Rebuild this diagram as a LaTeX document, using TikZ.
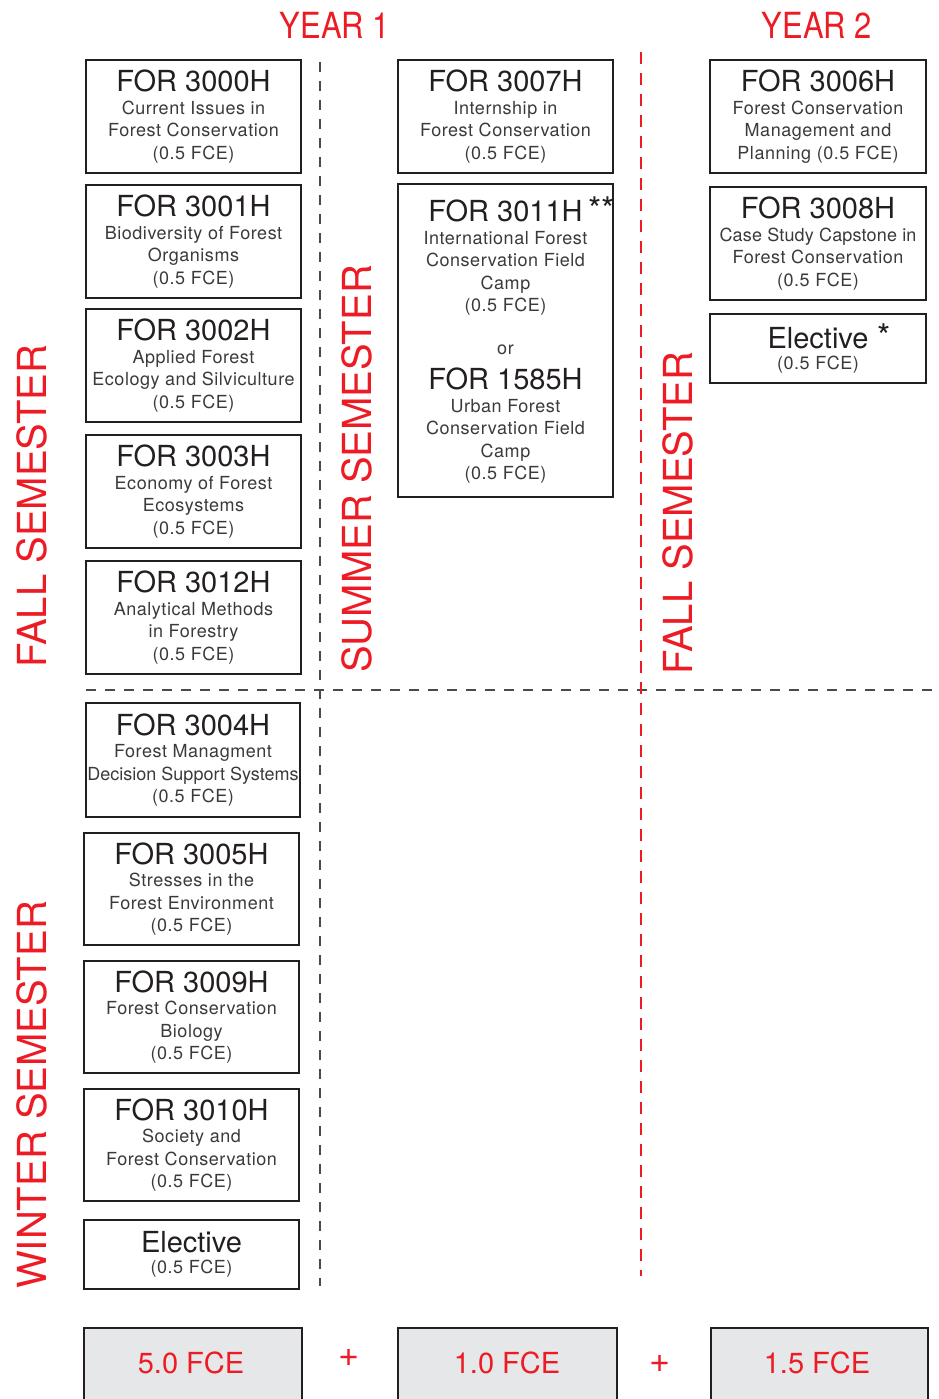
\documentclass[tikz,border=0pt]{standalone}
\usepackage{fontspec}
\setmainfont{TeX Gyre Heros}
\newfontfamily\subfam[LetterSpace=3]{TeX Gyre Heros}
\newfontfamily\subtight{TeX Gyre Heros}
\definecolor{cred}{HTML}{ED1C24}
\definecolor{cdark}{HTML}{231F20}
\definecolor{csub}{HTML}{3A3A3A}
\definecolor{cdash}{HTML}{4A4A4A}
\definecolor{cfill}{HTML}{E6E7E8}
\newcommand{\ttl}[1]{{\fontsize{29}{22}\selectfont\normalfont\color{cdark}#1}}
\tikzset{
  course/.style={draw=cdark, line width=2.8pt, align=center, inner sep=0pt,
    font=\subfam\fontsize{18}{22.5}\selectfont, text=csub},
  total/.style={draw=cdark, line width=2.8pt, fill=cfill, inner sep=0pt},
  totaltext/.style={text=cred, font=\fontsize{29}{30}\selectfont},
  semlabel/.style={text=cred, rotate=90, font=\fontsize{40}{40}\selectfont, inner sep=0pt},
  yearlabel/.style={text=cred, font=\fontsize{36}{36}\selectfont, inner sep=0pt},
  plussign/.style={text=cred, font=\fontsize{36}{36}\selectfont, inner sep=0pt},
  graydash/.style={draw=cdash, line width=1.6pt, dash pattern=on 10pt off 9pt},
  reddash/.style={draw=cred, line width=2pt, dash pattern=on 12pt off 9pt},
}
\begin{document}
\begin{tikzpicture}[x=1pt,y=-1pt]
\useasboundingbox (0,0) rectangle (938,1399);
% headings
\node[yearlabel] (y1) at (335,25) {\scalebox{0.86}[1]{YEAR 1}};
\node[yearlabel] (y2) at (817,25) {\scalebox{0.86}[1]{YEAR 2}};
% semester labels
\node[semlabel] (fall1) at (32,506) {FALL SEMESTER};
\node[semlabel] (wint) at (32,1095) {WINTER SEMESTER};
\node[semlabel] (summ) at (357,469) {SUMMER SEMESTER};
\node[semlabel] (fall2) at (678,513) {FALL SEMESTER};
% dividers
\coordinate (g1) at (320,62); \coordinate (g2) at (320,1286);
\coordinate (r1) at (641,52); \coordinate (r2) at (641,1276);
\coordinate (h1) at (86,690); \coordinate (h2) at (932,690);
\draw[graydash] (g1) -- (g2);
\draw[graydash] (h1) -- (h2);
\draw[reddash] (r1) -- (r2);
% year 1 fall
\node[course, minimum width=215, minimum height=113] (c3000) at (193.5,116.5)
  {\ttl{FOR 3000H}\\Current Issues in\\Forest Conservation\\(0.5 FCE)};
\node[course, minimum width=215, minimum height=113] (c3001) at (193.5,241.5)
  {\ttl{FOR 3001H}\\Biodiversity of Forest\\Organisms\\(0.5 FCE)};
\node[course, minimum width=215, minimum height=113] (c3002) at (193.5,365.5)
  {\ttl{FOR 3002H}\\Applied Forest\\Ecology and Silviculture\\(0.5 FCE)};
\node[course, minimum width=215, minimum height=113] (c3003) at (193.5,491.5)
  {\ttl{FOR 3003H}\\Economy of Forest\\Ecosystems\\(0.5 FCE)};
\node[course, minimum width=215, minimum height=113] (c3012) at (193.5,617.5)
  {\ttl{FOR 3012H}\\Analytical Methods\\in Forestry\\(0.5 FCE)};
% year 1 winter
\node[course, minimum width=214, minimum height=114] (c3004) at (193,760)
  {\ttl{FOR 3004H}\\Forest Managment\\{\subtight\fontsize{18}{22.5}\selectfont Decision Support Systems}\\(0.5 FCE)};
\node[course, minimum width=215, minimum height=112] (c3005) at (191.5,889)
  {\ttl{FOR 3005H}\\Stresses in the\\Forest Environment\\(0.5 FCE)};
\node[course, minimum width=215, minimum height=112] (c3009) at (191.5,1017)
  {\ttl{FOR 3009H}\\Forest Conservation\\Biology\\(0.5 FCE)};
\node[course, minimum width=215, minimum height=112] (c3010) at (191.5,1145)
  {\ttl{FOR 3010H}\\Society and\\Forest Conservation\\(0.5 FCE)};
\node[course, minimum width=215, minimum height=69] (elec1) at (191.5,1254.5)
  {\ttl{Elective}\\[-1pt](0.5 FCE)};
% summer
\node[course, minimum width=215, minimum height=113] (c3007) at (505.5,116.5)
  {\ttl{FOR 3007H}\\Internship in\\Forest Conservation\\(0.5 FCE)};
\node[course, minimum width=215, minimum height=313] (c3011) at (505.5,340.5)
  {\ttl{FOR 3011H\rlap{\fontsize{34}{22}\selectfont\,**}}\\International Forest\\Conservation Field\\Camp\\(0.5 FCE)\\[20pt]or\\[13pt]
   \ttl{FOR 1585H}\\Urban Forest\\Conservation Field\\Camp\\(0.5 FCE)};
% year 2 fall
\node[course, minimum width=216, minimum height=113] (c3006) at (818,116.5)
  {\ttl{FOR 3006H}\\Forest Conservation\\Management and\\Planning (0.5 FCE)};
\node[course, minimum width=216, minimum height=113] (c3008) at (818,243.5)
  {\ttl{FOR 3008H}\\{\addfontfeatures{LetterSpace=1}Case Study Capstone in}\\Forest Conservation\\(0.5 FCE)};
\node[course, minimum width=216, minimum height=69] (elec2) at (818,348.5)
  {\ttl{Elective\rlap{\fontsize{34}{22}\selectfont\ *}}\\[-1pt](0.5 FCE)};
% totals
\begin{scope}
\clip (0,0) rectangle (938,1399);
\node[total, minimum width=218, minimum height=90] (t1) at (193,1373) {};
\node[total, minimum width=219, minimum height=90] (t2) at (507.5,1373) {};
\node[total, minimum width=217, minimum height=90] (t3) at (819.5,1373) {};
\end{scope}
\node[totaltext] (t1t) at (191,1363) {5.0 FCE};
\node[totaltext] (t2t) at (507,1363) {1.0 FCE};
\node[totaltext] (t3t) at (817,1363) {1.5 FCE};
\node[plussign] (p1) at (349,1358) {+};
\node[plussign] (p2) at (660,1364) {+};
\end{tikzpicture}
\end{document}
